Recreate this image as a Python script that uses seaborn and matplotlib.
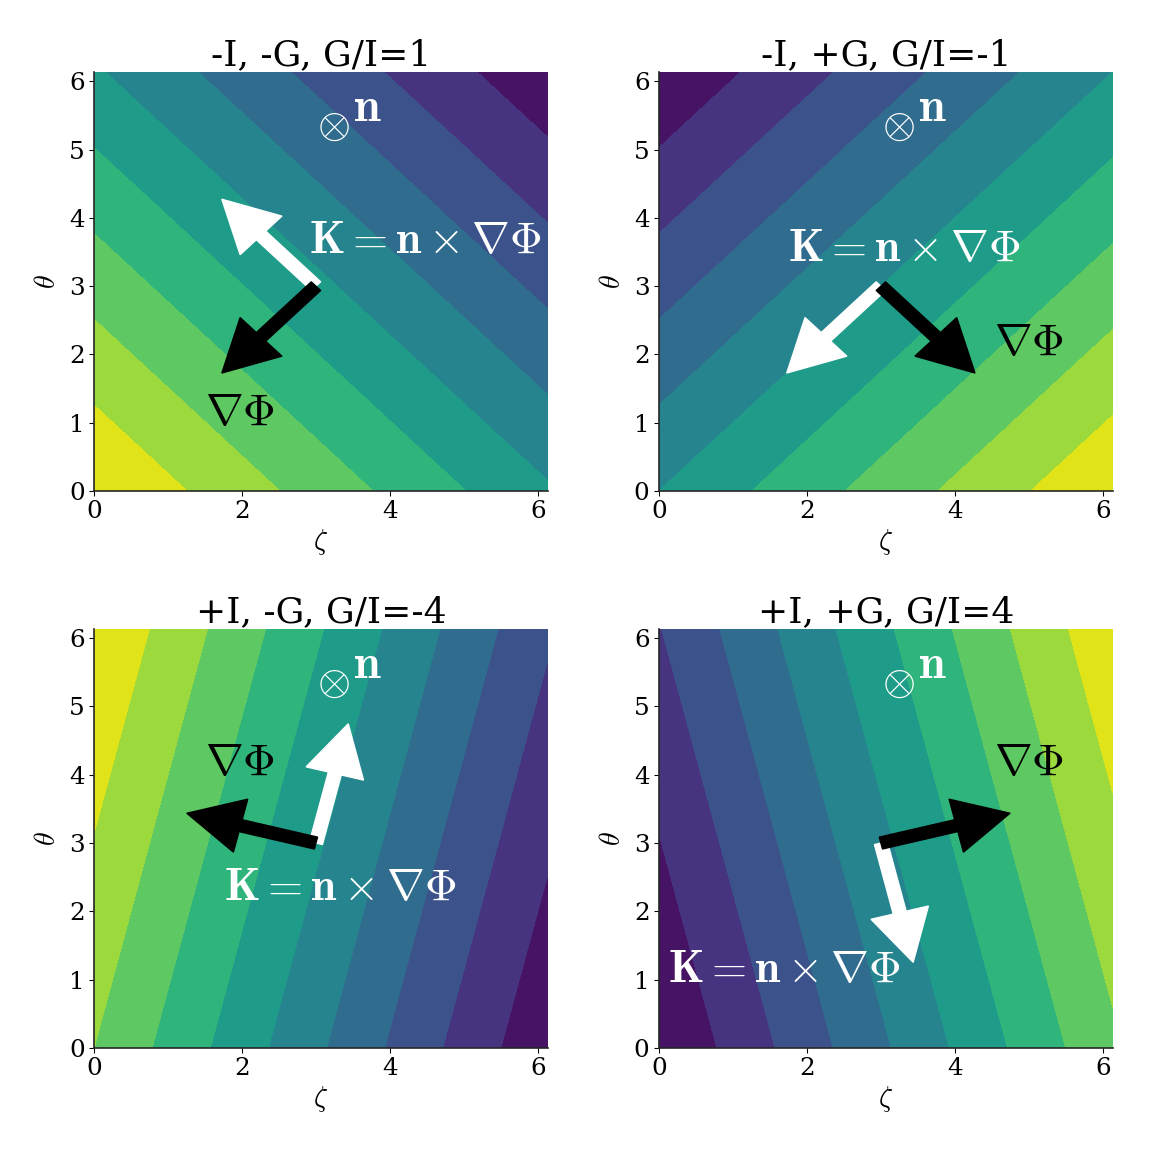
import numpy as np
import matplotlib
matplotlib.use("Agg")
import matplotlib.pyplot as plt
import seaborn as sns

# ---- data ----
titles = ["-I, -G, G/I=1", "-I, +G, G/I=-1", "+I, -G, G/I=-4", "+I, +G, G/I=4"]
I_vals = [-1, -1, 1, 1]
G_vals = [-1, 1, -4, 4]
levels_p1 = [-2.0, -1.8, -1.6, -1.4, -1.2, -1.0, -0.8, -0.6, -0.4, -0.2, 0.0]
levels_p2 = [-1.0, -0.8, -0.6, -0.4, -0.2, 0.0, 0.2, 0.4, 0.6, 0.8, 1.0]
levels_p3 = [-4.0, -3.5, -3.0, -2.5, -2.0, -1.5, -1.0, -0.5, 0.0, 0.5, 1.0]
levels_p4 = [0.0, 0.5, 1.0, 1.5, 2.0, 2.5, 3.0, 3.5, 4.0, 4.5, 5.0]
grad_label_pos = [(1.5, 0.97), (4.53, 1.99), (1.5, 3.99), (4.53, 3.99)]
K_label_pos = [(2.91, 3.48), (1.75, 3.37), (1.76, 2.17), (0.12, 0.97)]
otimes_pos = (3.24, 5.34)
n_pos = (3.5, 5.42)
arrow_origin = (3.0, 3.0)
arrow_length = 1.8
x_ticks = [0, 2, 4, 6]
y_ticks = [0, 1, 2, 3, 4, 5, 6]
axis_max = 6.135

levels_all = [levels_p1, levels_p2, levels_p3, levels_p4]

sns.set_theme(style="ticks")
plt.rcParams["font.family"] = ["DejaVu Serif"]
plt.rcParams["mathtext.fontset"] = "cm"
plt.rcParams["font.size"] = 18
plt.rcParams["text.color"] = "black"
plt.rcParams["xtick.color"] = "black"
plt.rcParams["ytick.color"] = "black"
plt.rcParams["axes.labelcolor"] = "black"

zeta = np.linspace(0, axis_max, 200)
theta = np.linspace(0, axis_max, 200)
Z, T = np.meshgrid(zeta, theta)

fig, axes = plt.subplots(2, 2, figsize=(12, 12), dpi=96)
fig.subplots_adjust(left=0.0816, right=0.966, top=0.9375, bottom=0.0903,
                    wspace=0.2445, hspace=0.329)
cmap = sns.color_palette("viridis", as_cmap=True)

for k, ax in enumerate(axes.flat):
    G = G_vals[k]
    I = I_vals[k]
    phi = (G * Z + I * T) / (2 * np.pi)
    ax.contourf(Z, T, phi, levels=levels_all[k], cmap=cmap)
    ax.set_xlim(0, axis_max)
    ax.set_ylim(0, axis_max)
    ax.set_xticks(x_ticks)
    ax.set_yticks(y_ticks)
    ax.tick_params(labelsize=18.5, length=3.5, width=0.8, pad=3.5)
    ax.set_xlabel(r"$\zeta$", fontsize=21, labelpad=3)
    ax.set_ylabel(r"$\theta$", fontsize=21, labelpad=6)
    ax.set_title(titles[k], fontsize=27, pad=4)

    norm = np.hypot(G, I)
    gx, gy = G / norm * arrow_length, I / norm * arrow_length
    kx, ky = I / norm * arrow_length, -G / norm * arrow_length
    ax.arrow(arrow_origin[0], arrow_origin[1], kx, ky, width=0.18,
             head_width=0.8, head_length=0.75, length_includes_head=True,
             color="white", zorder=5)
    ax.arrow(arrow_origin[0], arrow_origin[1], gx, gy, width=0.18,
             head_width=0.8, head_length=0.75, length_includes_head=True,
             color="black", zorder=5)

    ax.text(*grad_label_pos[k], r"$\nabla\Phi$", fontsize=34, color="black",
            ha="left", va="baseline")
    ax.text(*K_label_pos[k], r"$\mathbf{K} = \mathbf{n} \times \nabla\Phi$",
            fontsize=34, color="white", ha="left", va="baseline")
    ax.text(*otimes_pos, r"$\otimes$", fontsize=32, color="white",
            ha="center", va="center")
    ax.text(*n_pos, r"$\mathbf{n}$", fontsize=36, color="white",
            ha="left", va="baseline")

sns.despine(fig=fig)
fig.savefig("out.png", dpi=96)
